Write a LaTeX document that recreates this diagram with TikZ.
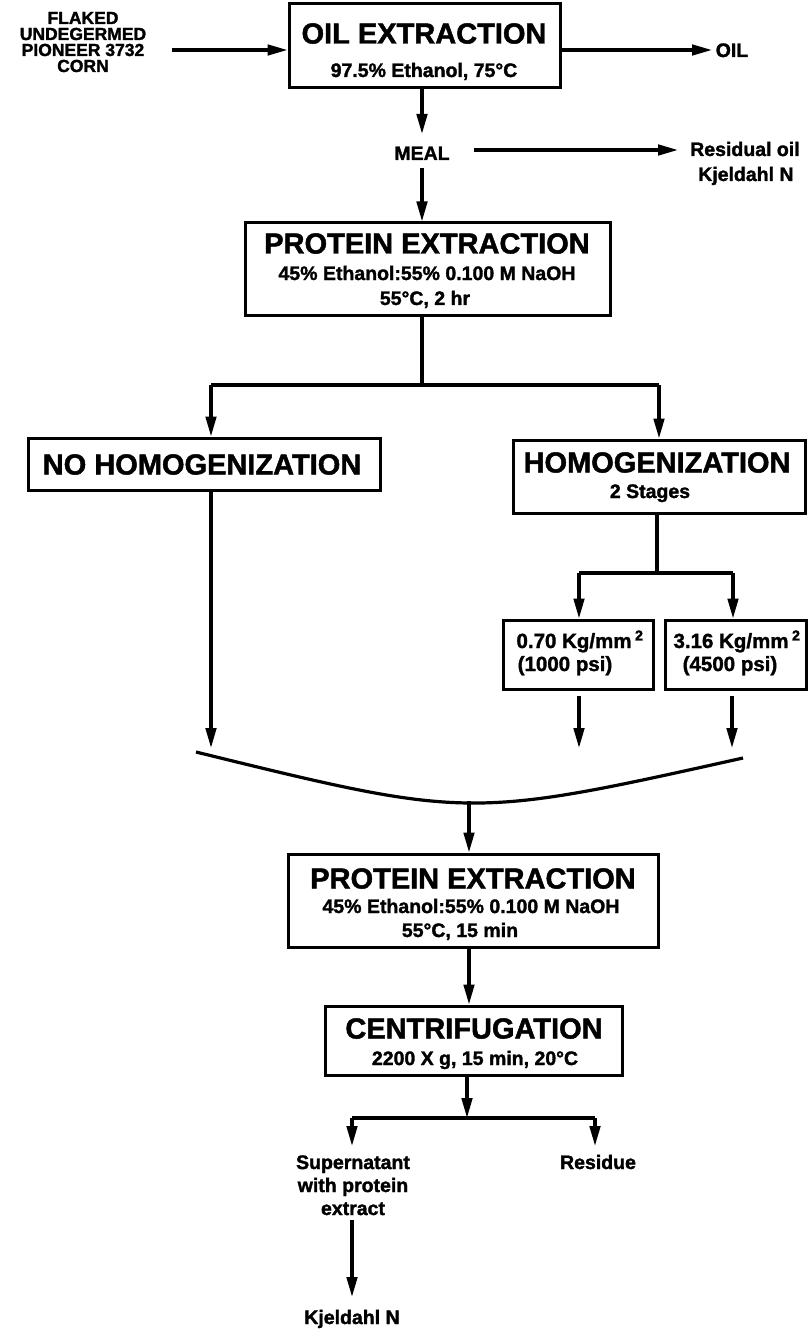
\documentclass[tikz,border=0pt]{standalone}
\usepackage{fontspec}
\setmainfont{Liberation Sans}[BoldFeatures={FakeBold=1.6}]
\usetikzlibrary{arrows.meta,calc}
\begin{document}
\begin{tikzpicture}[x=1pt,y=-1pt,
  box/.style={draw,line width=3pt,inner sep=0pt},
  ttl/.style={anchor=base,inner sep=0pt,font=\fontsize{29}{32}\selectfont\bfseries},
  subt/.style={anchor=base,inner sep=0pt,font=\fontsize{19.5}{22}\selectfont\bfseries},
  lab/.style={anchor=base,inner sep=0pt,font=\fontsize{19.5}{23}\selectfont\bfseries,align=center},
  conn/.style={line width=3.2pt},
  arr/.style={conn,-{Triangle[length=20pt,width=10.5pt]}}]

\fill[white] (0,0) rectangle (808,1329);
\useasboundingbox (0,0) rectangle (808,1329);

% ---- process boxes ----
\node[box,minimum width=271pt,minimum height=84pt] (oilx)  at (424.5,46) {};
\node[box,minimum width=365pt,minimum height=92pt] (prot1) at (427.5,269) {};
\node[box,minimum width=352pt,minimum height=52pt] (nohom) at (204,464) {};
\node[box,minimum width=292pt,minimum height=73pt] (hom)   at (659,476.5) {};
\node[box,minimum width=150pt,minimum height=69pt] (pA)    at (578,654.5) {};
\node[box,minimum width=141pt,minimum height=69pt] (pB)    at (735.5,654.5) {};
\node[box,minimum width=370pt,minimum height=93pt] (prot2) at (473,900.5) {};
\node[box,minimum width=297pt,minimum height=69pt] (cent)  at (473.5,1040.5) {};

% ---- box texts ----
\node[ttl]  (oilxT)  at (424,43.5) {OIL EXTRACTION};
\node[subt] (oilxS)  at (424,77) {97.5\% Ethanol, 75°C};

\node[ttl]  (prot1T) at (427,253.5) {PROTEIN EXTRACTION};
\node[subt] (prot1S) at (427,280) {45\% Ethanol:55\% 0.100 M NaOH};
\node[subt] (prot1U) at (425,305) {55°C, 2 hr};

\node[ttl]  (nohomT) at (202,474.5) {NO HOMOGENIZATION};

\node[ttl]  (homT)   at (657,472.5) {HOMOGENIZATION};
\node[subt] (homS)   at (650,498) {2 Stages};

\node[subt,font=\fontsize{20.5}{22}\selectfont\bfseries] (pAa) at (580,648) {0.70 Kg/mm\,\textsuperscript{2}};
\node[subt,font=\fontsize{20.5}{22}\selectfont\bfseries] (pAb) at (565,671) {(1000 psi)};
\node[subt,font=\fontsize{20.5}{22}\selectfont\bfseries] (pBa) at (737,648) {3.16 Kg/mm\,\textsuperscript{2}};
\node[subt,font=\fontsize{20.5}{22}\selectfont\bfseries] (pBb) at (730,671) {(4500 psi)};

\node[ttl]  (prot2T) at (473,888.5) {PROTEIN EXTRACTION};
\node[subt] (prot2S) at (471,913) {45\% Ethanol:55\% 0.100 M NaOH};
\node[subt] (prot2U) at (460,937) {55°C, 15 min};

\node[ttl]  (centT)  at (474,1038.5) {CENTRIFUGATION};
\node[subt] (centS)  at (475,1065) {2200 X g, 15 min, 20°C};

% ---- free labels (multi-line labels sit on their last baseline) ----
\node[lab,font=\fontsize{17.5}{16}\selectfont\bfseries] (corn) at (83,72)
  {FLAKED\\UNDEGERMED\\PIONEER 3732\\CORN};
\node[lab] (oil)   at (732,57)  {OIL};
\node[lab] (meal)  at (422,160) {MEAL};
\node[lab,anchor=base west] (resid) at (690,156) {Residual oil};
\node[lab,anchor=base west] (kjel1) at (698,181) {Kjeldahl N};
\node[lab] (super) at (353,1215) {Supernatant\\with protein\\extract};
\node[lab] (resdu) at (598,1169) {Residue};
\node[lab] (kjel2) at (352,1324) {Kjeldahl N};

% ---- junction and end points ----
\coordinate (cornout) at (172,50);
\coordinate (oilend)  at (712,50);
\coordinate (mealtop) at (422,134);
\coordinate (mealbot) at (422,168);
\coordinate (mealR)   at (474,150);
\coordinate (residend) at (678,150);
\coordinate (split1)  at (422,385);
\coordinate (splitL)  at (211,385);
\coordinate (splitR)  at (659,385);
\coordinate (split2)  at (657,573);
\coordinate (split2L) at (579,573);
\coordinate (split2R) at (733,573);
\coordinate (mergeL)  at (196,752);
\coordinate (mergeR)  at (743,758);
\coordinate (mergeC)  at (469,819);
\coordinate (mergeO)  at (469,801);
\coordinate (tipL)    at (211,748);
\coordinate (tipA)    at (579,748);
\coordinate (tipB)    at (732,748);
\coordinate (split3)  at (467,1118);
\coordinate (split3L) at (352,1118);
\coordinate (split3R) at (595,1118);
\coordinate (supL)    at (352,1146);
\coordinate (resL)    at (595,1146);
\coordinate (supbot)  at (352,1220);
\coordinate (kjtop)   at (352,1297);

% ---- connectors ----
\draw[arr] (cornout) -- (oilx.west |- cornout);
\draw[arr] (oilx.east |- oilend) -- (oilend);
\draw[arr] (oilx.south -| mealtop) -- (mealtop);
\draw[arr] (mealR) -- (residend);
\draw[arr] (mealbot) -- (prot1.north -| mealbot);

\draw[conn] (prot1.south -| split1) -- (split1);
\draw[conn] (splitL) -- (splitR);
\draw[arr] (splitL) -- (nohom.north -| splitL);
\draw[arr] (splitR) -- (hom.north -| splitR);

\draw[arr] (nohom.south -| tipL) -- (tipL);
\draw[conn] (hom.south -| split2) -- (split2);
\draw[conn] (split2L) -- (split2R);
\draw[arr] (split2L) -- (pA.north -| split2L);
\draw[arr] (split2R) -- (pB.north -| split2R);
\draw[arr] ([yshift=-5pt]pA.south -| tipA) -- (tipA);
\draw[arr] ([yshift=-5pt]pB.south -| tipB) -- (tipB);

\draw[conn] (mergeL) .. controls (mergeC) .. (mergeR);
\draw[arr] (mergeO) -- (prot2.north -| mergeO);
\draw[arr] (prot2.south -| mergeO) -- (cent.north -| mergeO);

\draw[arr] (cent.south -| split3) -- (split3);
\draw[conn] (split3L) -- (split3R);
\draw[arr] (split3L) -- (supL);
\draw[arr] (split3R) -- (resL);
\draw[arr] (supbot) -- (kjtop);
\end{tikzpicture}
\end{document}
